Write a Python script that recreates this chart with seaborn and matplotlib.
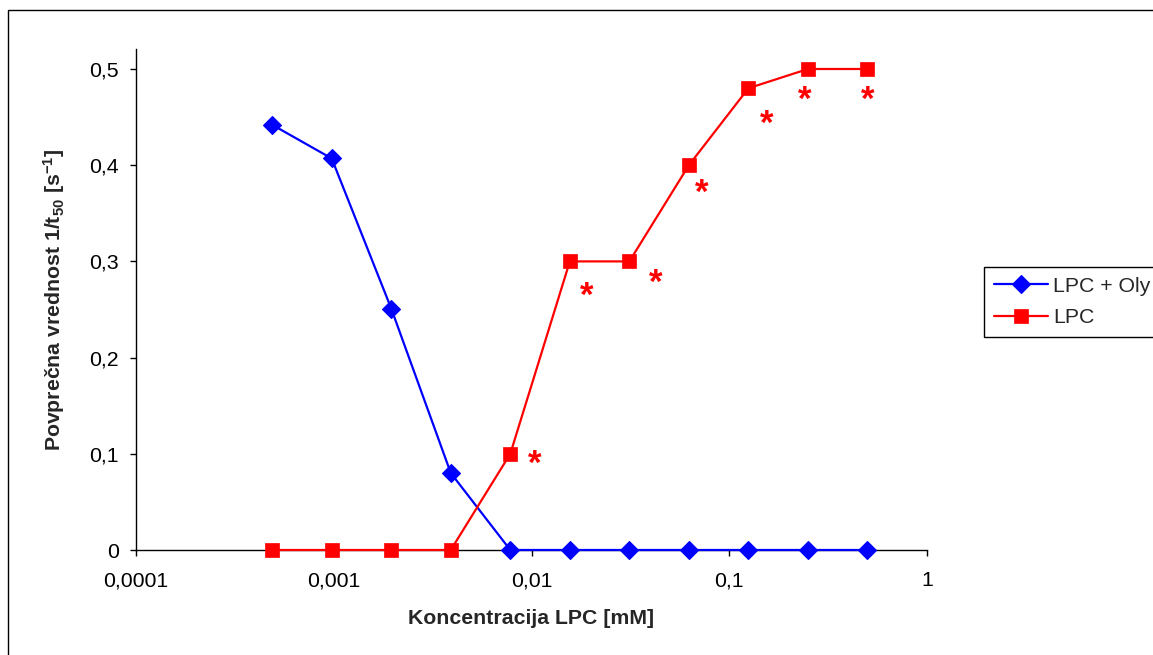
import matplotlib
matplotlib.use("Agg")
import matplotlib.pyplot as plt
from matplotlib.patches import Rectangle
from matplotlib.ticker import FixedLocator, FixedFormatter, NullLocator
import seaborn as sns

# LPC concentration series (two-fold dilutions, mM)
concentration_mM = [0.00048828, 0.00097656, 0.0019531, 0.0039063, 0.0078125,
                    0.015625, 0.03125, 0.0625, 0.125, 0.25, 0.5]
# mean 1/t50 values [s^-1]
rate_lpc_oly = [0.442, 0.407, 0.251, 0.080, 0.0, 0.0, 0.0, 0.0, 0.0, 0.0, 0.0]
rate_lpc = [0.0, 0.0, 0.0, 0.0, 0.10, 0.30, 0.30, 0.40, 0.48, 0.50, 0.50]
# statistically significant LPC points (marked with *)
significant_lpc = [False, False, False, False, True, True, True, True, True, True, True]

series_names = ["LPC + Oly", "LPC"]
x_ticks = [0.0001, 0.001, 0.01, 0.1, 1]
x_tick_labels = ["0,0001", "0,001", "0,01", "0,1", "1"]
y_ticks = [0, 0.1, 0.2, 0.3, 0.4, 0.5]
y_tick_labels = ["0", "0,1", "0,2", "0,3", "0,4", "0,5"]
x_label = "Koncentracija LPC [mM]"
y_label = r"Povprečna vrednost 1/t$_{\mathbf{50}}$ [s$^{\mathbf{-1}}$]"

sns.set_style("white")
plt.rcParams["font.family"] = ["Liberation Sans", "DejaVu Sans"]
plt.rcParams["mathtext.fontset"] = "custom"
plt.rcParams["mathtext.rm"] = "Liberation Sans"
plt.rcParams["mathtext.it"] = "Liberation Sans:italic"
plt.rcParams["mathtext.bf"] = "Liberation Sans:bold"

W, H = 1153, 655
FS = 15.3
fig = plt.figure(figsize=(W / 100, H / 100), dpi=100)
fig.patch.set_facecolor("white")

# chart-area frame (runs off the right and bottom edges)
fig.patches.append(Rectangle((8 / W, -0.2), 1.5, (1 - 10 / H) + 0.2,
                             transform=fig.transFigure, fill=False,
                             edgecolor="black", linewidth=1.0))

ax = fig.add_axes([136 / W, 1 - 550 / H, (927 - 136) / W, (550 - 49) / H])
ax.set_facecolor("white")

blue = "#0000FF"
red = "#FF0000"

sns.lineplot(x=concentration_mM, y=rate_lpc_oly, ax=ax, color=blue, marker="D",
             markersize=8.8, markeredgecolor=blue, markeredgewidth=0.8,
             linewidth=1.6, label=series_names[0], clip_on=False, zorder=3)
sns.lineplot(x=concentration_mM, y=rate_lpc, ax=ax, color=red, marker="s",
             markersize=10.5, markeredgecolor=red, markeredgewidth=0.5,
             linewidth=1.6, label=series_names[1], clip_on=False, zorder=4)

ax.set_xscale("log")
ax.set_xlim(1e-4, 1)
ax.set_ylim(0, 501 / 962)

# asterisks placed below-right of significant points (pixel offsets)
star_offsets = [(24, 3), (17, 27), (26, 14), (13, 21), (18, 29), (-3, 24), (0, 24)]
sig_points = [(x, y) for x, y, s in zip(concentration_mM, rate_lpc, significant_lpc) if s]
for (x, y), (dx, dy) in zip(sig_points, star_offsets):
    ax.annotate("*", xy=(x, y), xytext=(dx, -dy + 9), textcoords="offset pixels",
                ha="center", va="top", color=red, fontsize=25, fontweight="bold",
                annotation_clip=False)

ax.xaxis.set_major_locator(FixedLocator(x_ticks))
ax.xaxis.set_major_formatter(FixedFormatter(x_tick_labels))
ax.xaxis.set_minor_locator(NullLocator())
ax.yaxis.set_major_locator(FixedLocator(y_ticks))
ax.yaxis.set_major_formatter(FixedFormatter(y_tick_labels))

for side in ("top", "right"):
    ax.spines[side].set_visible(False)
for side in ("left", "bottom"):
    ax.spines[side].set_color("black")
    ax.spines[side].set_linewidth(1.0)

ax.tick_params(axis="x", direction="out", length=4.3, width=1, color="black",
               labelsize=FS, labelcolor="black", pad=11, bottom=True)
ax.tick_params(axis="y", direction="out", length=4.3, width=1, color="black",
               labelsize=FS, labelcolor="black", pad=8, left=True)

ax.set_xlabel(x_label, fontsize=FS, fontweight="bold")
ax.set_ylabel(y_label, fontsize=FS, fontweight="bold")
ax.xaxis.set_label_coords(0.5, (550 - 618) / 501)
ax.xaxis.label.set_va("center")
ax.yaxis.set_label_coords((54 - 136) / 791, 0.5)
ax.yaxis.label.set_va("center")
ax.yaxis.label.set_ha("center")

leg = ax.legend(loc="upper left", bbox_to_anchor=(984 / W, 1 - 267 / H),
                bbox_transform=fig.transFigure, frameon=True, fancybox=False,
                edgecolor="black", framealpha=1, borderaxespad=0,
                handlelength=2.55, handletextpad=0.25, labelspacing=0.6,
                borderpad=0.45, fontsize=FS, numpoints=1)
leg.get_frame().set_linewidth(1.0)

fig.savefig("out.png", dpi=100, facecolor="white")
